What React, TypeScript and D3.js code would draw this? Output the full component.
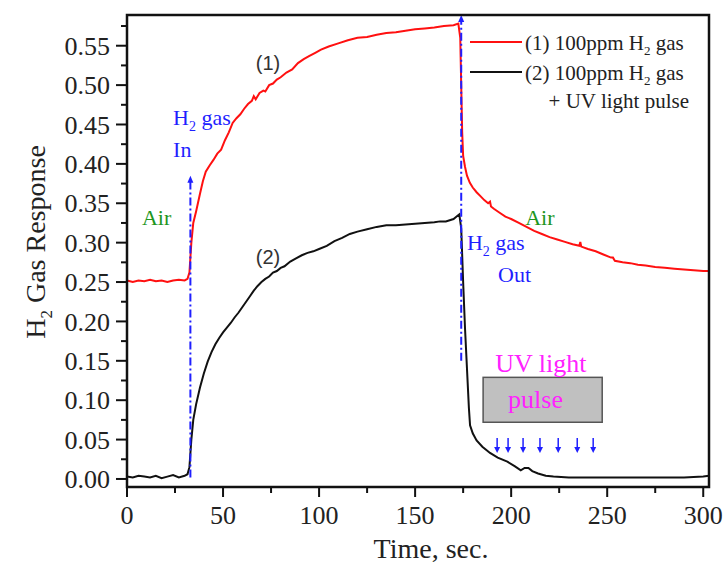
import React from "react";
import * as d3 from "d3";

// ---- data ----
const redTime = [0, 3, 6, 9, 12, 15, 18, 21, 24, 27, 30, 31.5, 32.5, 33.5, 34.5, 36, 38, 39.5, 41, 43, 45, 47, 49, 51, 53, 55, 57, 59, 61, 63, 65, 66, 67, 69, 71, 72, 74, 76, 78, 80, 83, 86, 89, 92, 95, 98, 101, 105, 110, 115, 120, 125, 130, 135, 140, 145, 150, 155, 160, 165, 170, 172.5, 173.5, 174, 174.5, 175, 176, 177, 178.5, 180, 182, 184, 186, 188, 189, 189.5, 191, 194, 197, 200, 204, 208, 212, 216, 220, 224, 228, 232, 235.5, 236, 236.5, 240, 244, 248, 252, 253, 254, 258, 262, 266, 270, 275, 280, 285, 290, 295, 300, 303];
const redValue = [0.252, 0.25, 0.252, 0.251, 0.253, 0.251, 0.252, 0.25, 0.252, 0.253, 0.252, 0.254, 0.262, 0.3, 0.325, 0.34, 0.362, 0.378, 0.39, 0.398, 0.405, 0.413, 0.418, 0.43, 0.44, 0.452, 0.458, 0.463, 0.47, 0.476, 0.48, 0.486, 0.482, 0.49, 0.493, 0.492, 0.5, 0.502, 0.507, 0.51, 0.516, 0.52, 0.528, 0.533, 0.537, 0.541, 0.545, 0.549, 0.553, 0.557, 0.56, 0.561, 0.564, 0.566, 0.567, 0.569, 0.571, 0.572, 0.573, 0.575, 0.576, 0.578, 0.56, 0.5, 0.44, 0.41, 0.396, 0.385, 0.376, 0.37, 0.364, 0.359, 0.354, 0.35, 0.352, 0.346, 0.343, 0.338, 0.333, 0.33, 0.325, 0.32, 0.315, 0.311, 0.307, 0.304, 0.301, 0.298, 0.296, 0.301, 0.295, 0.292, 0.289, 0.285, 0.281, 0.281, 0.277, 0.275, 0.274, 0.272, 0.271, 0.269, 0.268, 0.267, 0.266, 0.265, 0.264, 0.264];

const blackTime = [0, 3, 6, 9, 12, 15, 18, 21, 24, 27, 30, 31.5, 32.5, 33.5, 34.5, 36, 38, 40, 42, 44, 46, 48, 50, 52, 54, 56, 58, 60, 62, 64, 66, 68, 70, 72, 74, 76, 78, 80, 82, 85, 88, 91, 94, 97, 100, 104, 108, 112, 116, 120, 125, 130, 135, 140, 145, 150, 155, 160, 163, 166, 170, 173, 174, 175, 176, 177, 178, 178.6, 180, 182, 185, 189, 193, 198, 202, 205, 207, 209, 211, 214, 218, 222, 230, 240, 250, 260, 270, 280, 290, 300, 303];
const blackValue = [0.003, 0.002, 0.004, 0.003, 0.002, 0.004, 0.001, 0.003, 0.005, 0.002, 0.004, 0.006, 0.015, 0.05, 0.075, 0.095, 0.116, 0.134, 0.149, 0.161, 0.171, 0.179, 0.186, 0.192, 0.198, 0.205, 0.211, 0.218, 0.225, 0.232, 0.239, 0.245, 0.25, 0.254, 0.257, 0.262, 0.264, 0.268, 0.27, 0.276, 0.28, 0.284, 0.287, 0.289, 0.292, 0.296, 0.302, 0.306, 0.311, 0.314, 0.317, 0.32, 0.322, 0.322, 0.323, 0.324, 0.325, 0.326, 0.327, 0.327, 0.33, 0.336, 0.318, 0.25, 0.19, 0.14, 0.09, 0.068, 0.058, 0.049, 0.041, 0.033, 0.027, 0.022, 0.016, 0.011, 0.014, 0.014, 0.01, 0.007, 0.004, 0.003, 0.002, 0.002, 0.002, 0.002, 0.002, 0.002, 0.002, 0.003, 0.004];

const xTicks = [0, 50, 100, 150, 200, 250, 300];
const xMinorTicks = [25, 75, 125, 175, 225, 275];
const yTicks = [0, 0.05, 0.1, 0.15, 0.2, 0.25, 0.3, 0.35, 0.4, 0.45, 0.5, 0.55];
const yMinorTicks = [0.025, 0.075, 0.125, 0.175, 0.225, 0.275, 0.325, 0.375, 0.425, 0.475, 0.525, 0.575];

// gas switching markers (time, from value, to value)
const gasMarkerTime = [33, 174];
const gasMarkerFrom = [0.002, 0.15];
const gasMarkerTo = [0.385, 0.589];

// UV pulse arrows (time) and pulse box extent
const uvPulseTimes = [192.7, 198.4, 206.2, 215, 224.5, 234.4, 242.7];
const uvArrowTop = 0.052;
const uvArrowBottom = 0.033;
const uvBoxTime = [185.4, 247.4];
const uvBoxValue = [0.072, 0.129];

const SERIF = "'Liberation Serif', 'Times New Roman', serif";
const SANS = "'Liberation Sans', Arial, sans-serif";

export default function App() {
  const W = 724, H = 568;
  const left = 127, right = 709, top = 15, bottom = 487;
  const x = d3.scaleLinear().domain([0, 303]).range([left, right]);
  const y = d3.scaleLinear().domain([-0.0102, 0.589]).range([bottom, top]);

  const red = redTime.map((t, i) => [t, redValue[i]] as [number, number]);
  const black = blackTime.map((t, i) => [t, blackValue[i]] as [number, number]);
  const line = d3.line<[number, number]>().x(d => x(d[0])).y(d => y(d[1]));

  const blue = "#1f1fff";
  const green = "#1e961e";
  const magenta = "#ff22ff";

  return (
    <svg width={W} height={H} style={{ position: "absolute", left: 0, top: 0, background: "#fff" }}>
      {/* curves */}
      <path d={line(red) || ""} fill="none" stroke="#ff1010" strokeWidth={2} />
      <path d={line(black) || ""} fill="none" stroke="#111" strokeWidth={2} />

      {/* gas markers */}
      {gasMarkerTime.map((t, i) => (
        <g key={"gm" + i}>
          <line x1={x(t)} x2={x(t)} y1={y(gasMarkerFrom[i])} y2={y(gasMarkerTo[i]) + 6} stroke={blue} strokeWidth={2} strokeDasharray="8,3,2,3" />
          <path d={`M${x(t) - 3},${y(gasMarkerTo[i]) + 7} L${x(t)},${y(gasMarkerTo[i])} L${x(t) + 3},${y(gasMarkerTo[i]) + 7} Z`} fill={blue} />
        </g>
      ))}

      {/* UV box */}
      <rect x={x(uvBoxTime[0])} y={y(uvBoxValue[1])} width={x(uvBoxTime[1]) - x(uvBoxTime[0])} height={y(uvBoxValue[0]) - y(uvBoxValue[1])} fill="#c0c0c0" stroke="#555" strokeWidth={1.5} />
      <text x={x(191.7)} y={y(0.136)} fontFamily={SERIF} fontSize={26} fill={magenta}>UV light</text>
      <text x={x(198.4)} y={y(0.09)} fontFamily={SERIF} fontSize={26} fill={magenta}>pulse</text>

      {/* UV arrows */}
      {uvPulseTimes.map((t, i) => (
        <g key={"ua" + i}>
          <line x1={x(t)} x2={x(t)} y1={y(uvArrowTop)} y2={y(uvArrowBottom) - 5} stroke={blue} strokeWidth={1.5} />
          <path d={`M${x(t) - 3},${y(uvArrowBottom) - 6} L${x(t)},${y(uvArrowBottom)} L${x(t) + 3},${y(uvArrowBottom) - 6} Z`} fill={blue} />
        </g>
      ))}

      {/* annotations */}
      <text x={x(7.8)} y={y(0.322)} fontFamily={SERIF} fontSize={22} fill={green}>Air</text>
      <text x={x(207.3)} y={y(0.322)} fontFamily={SERIF} fontSize={22} fill={green}>Air</text>
      <text x={x(24)} y={y(0.449)} fontFamily={SERIF} fontSize={22} fill={blue}>H<tspan fontSize={14} dy={6}>2</tspan><tspan dy={-6}> gas</tspan></text>
      <text x={x(24)} y={y(0.409)} fontFamily={SERIF} fontSize={22} fill={blue}>In</text>
      <text x={x(177)} y={y(0.291)} fontFamily={SERIF} fontSize={22} fill={blue}>H<tspan fontSize={14} dy={6}>2</tspan><tspan dy={-6}> gas</tspan></text>
      <text x={x(193.2)} y={y(0.25)} fontFamily={SERIF} fontSize={22} fill={blue}>Out</text>
      <text x={x(73.4)} y={y(0.519)} fontFamily={SANS} fontSize={20} fill="#333" textAnchor="middle">(1)</text>
      <text x={x(73.4)} y={y(0.273)} fontFamily={SANS} fontSize={20} fill="#333" textAnchor="middle">(2)</text>

      {/* legend */}
      <line x1={470} x2={522} y1={42} y2={42} stroke="#ff1010" strokeWidth={2} />
      <text x={525} y={50} fontFamily={SERIF} fontSize={21} fill="#222">(1) 100ppm H<tspan fontSize={13} dy={5}>2</tspan><tspan dy={-5}> gas</tspan></text>
      <line x1={470} x2={522} y1={72} y2={72} stroke="#111" strokeWidth={2} />
      <text x={525} y={80} fontFamily={SERIF} fontSize={21} fill="#222">(2) 100ppm H<tspan fontSize={13} dy={5}>2</tspan><tspan dy={-5}> gas</tspan></text>
      <text x={689} y={108} fontFamily={SERIF} fontSize={21} fill="#222" textAnchor="end">+ UV light pulse</text>

      {/* frame */}
      <rect x={left} y={top} width={right - left} height={bottom - top} fill="none" stroke="#111" strokeWidth={2.5} />

      {/* y axis ticks */}
      {yTicks.map(v => (
        <g key={"yt" + v}>
          <line x1={left - 11} x2={left} y1={y(v)} y2={y(v)} stroke="#111" strokeWidth={2} />
          <text x={110} y={y(v)} dy="0.35em" fontFamily={SERIF} fontSize={26} fill="#222" textAnchor="end">{v.toFixed(2)}</text>
        </g>
      ))}
      {yMinorTicks.map(v => (
        <line key={"ym" + v} x1={left - 6} x2={left} y1={y(v)} y2={y(v)} stroke="#111" strokeWidth={2} />
      ))}

      {/* x axis ticks */}
      {xTicks.map(t => (
        <g key={"xt" + t}>
          <line x1={x(t)} x2={x(t)} y1={bottom} y2={bottom + 10} stroke="#111" strokeWidth={2} />
          <text x={x(t)} y={524} fontFamily={SERIF} fontSize={26} fill="#222" textAnchor="middle">{t}</text>
        </g>
      ))}
      {xMinorTicks.map(t => (
        <line key={"xm" + t} x1={x(t)} x2={x(t)} y1={bottom} y2={bottom + 6} stroke="#111" strokeWidth={2} />
      ))}

      {/* axis titles */}
      <text x={431} y={558} fontFamily={SERIF} fontSize={28} fill="#222" textAnchor="middle">Time, sec.</text>
      <text transform={`translate(45,242) rotate(-90)`} fontFamily={SERIF} fontSize={28} fill="#222" textAnchor="middle">H<tspan fontSize={17} dy={7}>2</tspan><tspan dy={-7}> Gas Response</tspan></text>
    </svg>
  );
}
